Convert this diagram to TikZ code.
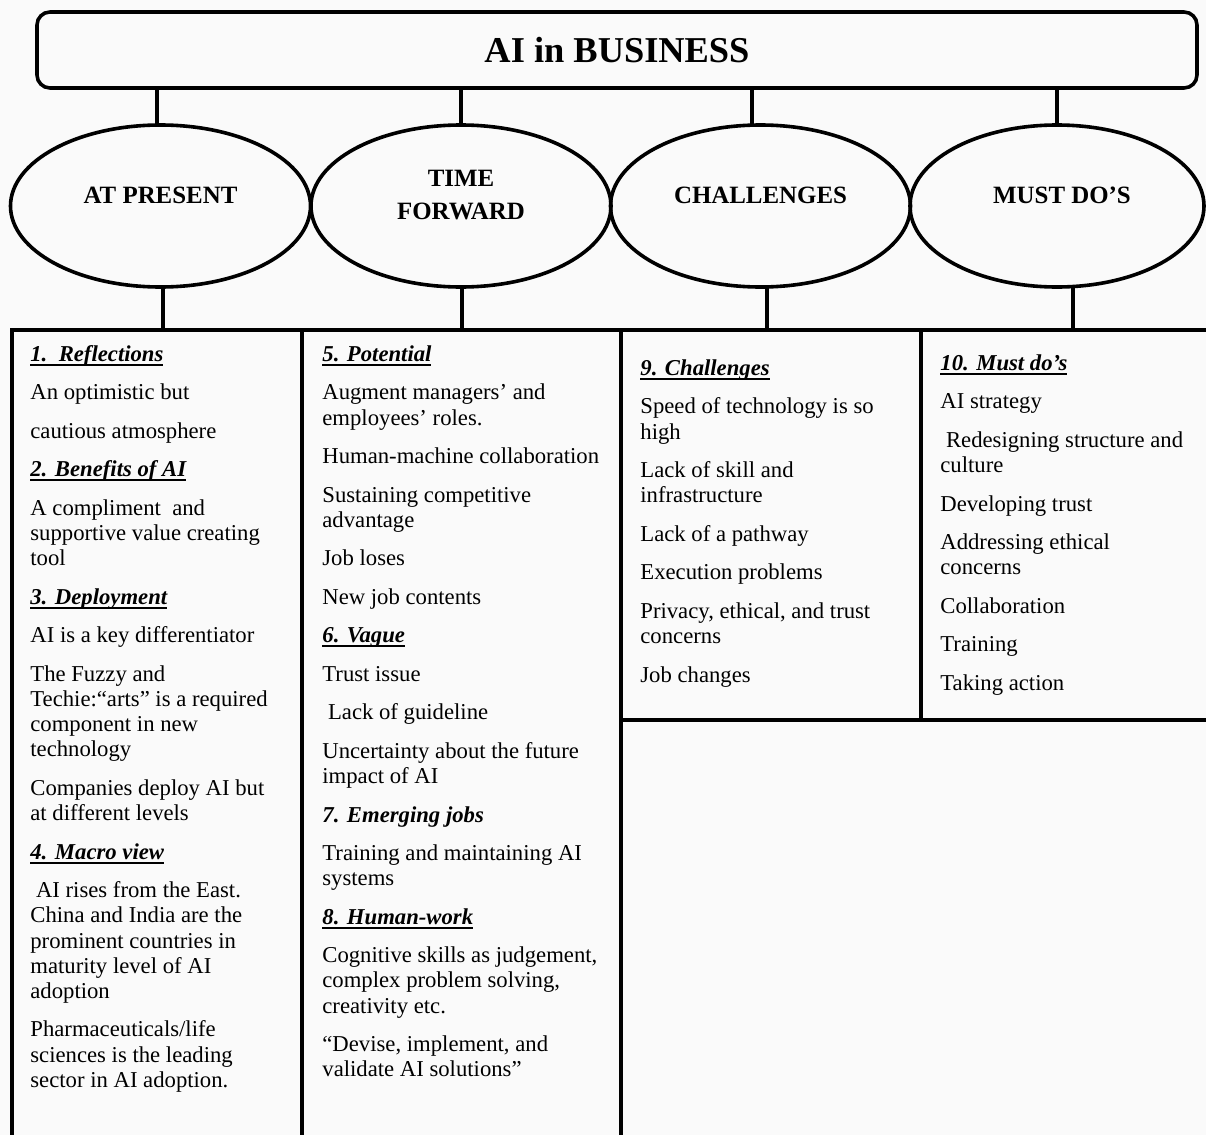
\documentclass[tikz,border=0pt]{standalone}
\usepackage{fontspec}
\setmainfont{Liberation Serif}
\usetikzlibrary{shapes.geometric}
\newsavebox\myheadbox
\newcommand\myhead[1]{\sbox\myheadbox{\bfseries\itshape #1}\rlap{\rule[-2.2pt]{\wd\myheadbox}{0.95pt}}\usebox\myheadbox}
\newcommand\bodyfont{\fontsize{11.35pt}{12.6pt}\selectfont}
\tikzset{
  box/.style={draw, line width=1.8pt, inner sep=0pt, outer sep=0pt},
  colbox/.style={box, rectangle, anchor=north west},
  oval/.style={box, ellipse, minimum width=150pt, minimum height=81pt},
  conn/.style={line width=2.2pt},
  lab/.style={font=\fontsize{12.45pt}{16.8pt}\selectfont\bfseries, align=center, inner sep=0pt},
  body/.style={font=\bodyfont, align=left, anchor=north west, inner sep=0pt}
}
\begin{document}
\begin{tikzpicture}[x=0.5pt, y=-0.5pt]
\useasboundingbox (0,0) rectangle (1206,1135);
\clip (0,0) rectangle (1206,1135);
\fill[white!98!black] (0,0) rectangle (1206,1135);

% title
\node[box, rectangle, rounded corners=6.5pt, minimum width=580pt, minimum height=38pt,
      font=\fontsize{18.2pt}{20pt}\selectfont\bfseries] (title) at (617,50) {AI in BUSINESS};

% ellipses
\node[oval] (e1) at (160.5,206) {};
\node[oval] (e2) at (461,206) {};
\node[oval] (e3) at (760.5,206) {};
\node[oval, minimum width=147pt] (e4) at (1057,206) {};

\node[lab] (l1) at ([yshift=5.5pt]e1.center) {AT PRESENT};
\node[lab] (l2) at ([yshift=5.5pt]e2.center) {TIME\\FORWARD};
\node[lab] (l3) at ([yshift=5.5pt]e3.center) {CHALLENGES};
\node[lab] (l4) at ([xshift=2.5pt,yshift=5.5pt]e4.center) {MUST DO’S};

% columns
\node[colbox, minimum width=145pt, minimum height=435pt] (c1) at (12,330) {};
\node[colbox, minimum width=159.5pt, minimum height=435pt] (c2) at (302,330) {};
\node[colbox, minimum width=150pt, minimum height=195pt] (c3) at (621,330) {};
\node[colbox, minimum width=189.5pt, minimum height=195pt] (c4) at (921,330) {};

% connectors title -> ellipses
\draw[conn] ([xshift=-1.75pt]e1.north) -- ([xshift=-1.75pt]e1.north |- title.south);
\draw[conn] (e2.north) -- (e2.north |- title.south);
\draw[conn] ([xshift=-4.25pt]e3.north) -- ([xshift=-4.25pt]e3.north |- title.south);
\draw[conn] (e4.north) -- (e4.north |- title.south);

% connectors ellipses -> columns
\draw[conn] ([xshift=1.25pt]e1.south) -- ([xshift=1.25pt]e1.south |- c1.north);
\draw[conn] ([xshift=0.5pt]e2.south) -- ([xshift=0.5pt]e2.south |- c2.north);
\draw[conn] ([xshift=3.25pt]e3.south) -- ([xshift=3.25pt]e3.south |- c3.north);
\draw[conn] ([xshift=8pt]e4.south) -- ([xshift=8pt]e4.south |- c4.north);

% column texts
\node[body] (t1) at (30,343.4) {\strut\myhead{1.\ \ Reflections}\\[6.65pt]
An optimistic but\\[6.65pt]
cautious atmosphere\\[6.65pt]
\myhead{2. Benefits of AI}\\[6.65pt]
A compliment\ \ and\\
supportive value creating\\
tool\\[6.65pt]
\myhead{3. Deployment}\\[6.65pt]
AI is a key differentiator\\[6.65pt]
The Fuzzy and\\
Techie:“arts” is a required\\
component in new\\
technology\\[6.65pt]
Companies deploy AI but\\
at different levels\\[6.65pt]
\myhead{4. Macro view}\\[6.65pt]
\ AI rises from the East.\\
China and India are the\\
prominent countries in\\
maturity level of AI\\
adoption\\[6.65pt]
Pharmaceuticals/life\\
sciences is the leading\\
sector in AI adoption.};

\node[body] (t2) at (322,343.4) {\strut\myhead{5. Potential}\\[6.65pt]
Augment managers’ and\\
employees’ roles.\\[6.65pt]
Human-machine collaboration\\[6.65pt]
Sustaining competitive\\
advantage\\[6.65pt]
Job loses\\[6.65pt]
New job contents\\[6.65pt]
\myhead{6. Vague}\\[6.65pt]
Trust issue\\[6.65pt]
\ Lack of guideline\\[6.65pt]
Uncertainty about the future\\
impact of AI\\[6.65pt]
\textbf{\textit{7. Emerging jobs}}\\[6.65pt]
Training and maintaining AI\\
systems\\[6.65pt]
\myhead{8. Human-work}\\[6.65pt]
Cognitive skills as judgement,\\
complex problem solving,\\
creativity etc.\\[6.65pt]
“Devise, implement, and\\
validate AI solutions”};

\node[body] (t3) at (640,357.4) {\strut\myhead{9. Challenges}\\[6.65pt]
Speed of technology is so\\
high\\[6.65pt]
Lack of skill and\\
infrastructure\\[6.65pt]
Lack of a pathway\\[6.65pt]
Execution problems\\[6.65pt]
Privacy, ethical, and trust\\
concerns\\[6.65pt]
Job changes};

\node[body] (t4) at (940,352.4) {\strut\myhead{10. Must do’s}\\[6.65pt]
AI strategy\\[6.65pt]
\ Redesigning structure and\\
culture\\[6.65pt]
Developing trust\\[6.65pt]
Addressing ethical\\
concerns\\[6.65pt]
Collaboration\\[6.65pt]
Training\\[6.65pt]
Taking action};
\end{tikzpicture}
\end{document}
